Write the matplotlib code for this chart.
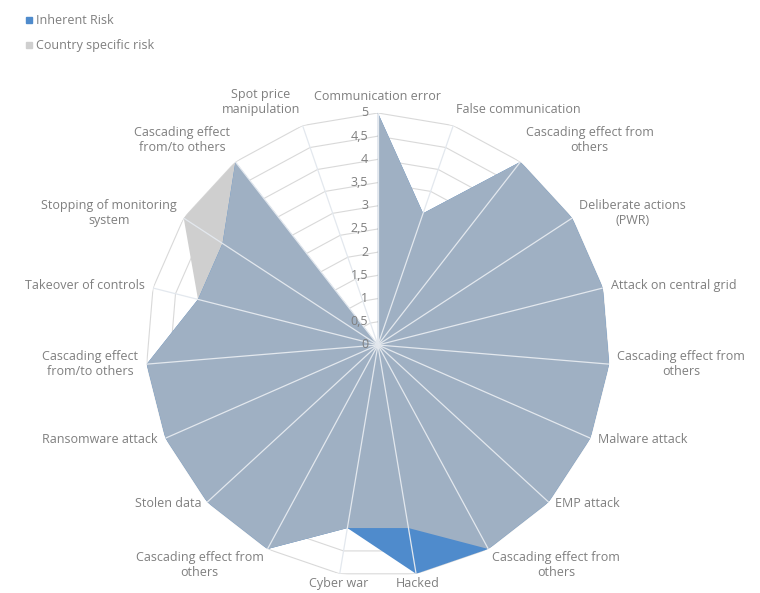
import numpy as np
import matplotlib.pyplot as plt
from matplotlib.lines import Line2D

plt.rcParams['font.family'] = ['Open Sans', 'DejaVu Sans']

categories = ['Communication error', 'False communication', 'Cascading effect from\nothers',
              'Deliberate actions\n(PWR)', 'Attack on central grid', 'Cascading effect from\nothers',
              'Malware attack', 'EMP attack', 'Cascading effect from\nothers', 'Hacked', 'Cyber war',
              'Cascading effect from\nothers', 'Stolen data', 'Ransomware attack',
              'Cascading effect\nfrom/to others', 'Takeover of controls',
              'Stopping of monitoring\nsystem', 'Cascading effect\nfrom/to others',
              'Spot price\nmanipulation']
inherent_risk = [5, 3, 5, 5, 5, 5, 5, 5, 5, 5, 4, 5, 5, 5, 5, 4, 4, 5, 0]
country_risk = [5, 3, 5, 5, 5, 5, 5, 5, 5, 4, 4, 5, 5, 5, 5, 4, 5, 5, 0]
rticks = [0, 0.5, 1, 1.5, 2, 2.5, 3, 3.5, 4, 4.5, 5]
rtick_labels = ['0', '0,5', '1', '1,5', '2', '2,5', '3', '3,5', '4', '4,5', '5']

text_color = '#7f7f7f'
grid_color = '#d9d9d9'
blue = '#4f8bcc'
gray = '#cfcfcf'
mix = '#9fb0c3'

n = len(categories)
theta = np.linspace(0, 2 * np.pi, n, endpoint=False)
theta_c = np.append(theta, theta[0])


def close(vals):
    return np.append(vals, vals[0])


fig = plt.figure(figsize=(7.6, 5.93), dpi=100, facecolor='white')
ax = fig.add_axes([0.192, 0.027, 0.6105, 0.7825], projection='polar')
ax.set_theta_offset(np.pi / 2)
ax.set_theta_direction(-1)
ax.set_ylim(0, 5)
ax.grid(False)
ax.set_xticks([])
ax.set_yticks([])
ax.spines['polar'].set_visible(False)

# polygon rings
for r in rticks[1:]:
    ax.plot(theta_c, [r] * (n + 1), color=grid_color, lw=0.8, zorder=1)

# series
inh = np.array(inherent_risk, dtype=float)
cty = np.array(country_risk, dtype=float)
ax.fill(theta_c, close(cty), color=gray, lw=0, zorder=2)
ax.fill(theta_c, close(inh), color=blue, lw=0, zorder=3)
ax.fill(theta_c, close(np.minimum(inh, cty)), color=mix, lw=0, zorder=4)

# spokes
for t in theta:
    ax.plot([t, t], [0, 5], color='#e3e8ee', lw=0.9, zorder=5)

# radial tick labels
for r, lab in zip(rticks, rtick_labels):
    ax.annotate(lab, xy=(0, r), xytext=(-7, 0), textcoords='offset points',
                ha='right', va='center', color=text_color, fontsize=9, zorder=10)

# category labels
for t, lab in zip(theta, categories):
    s, c = np.sin(t), np.cos(t)
    if abs(s) < 0.2:
        ha = 'center'
    elif s > 0:
        ha = 'left'
    else:
        ha = 'right'
    if c > 0.7:
        va = 'bottom'
    elif c < -0.7:
        va = 'top'
    else:
        va = 'center'
    dy = 7 * c if c > 0 else 2 * c
    ax.annotate(lab, xy=(t, 5), xytext=(6 * s, dy), textcoords='offset points',
                ha=ha, va=va, multialignment='center', color=text_color, fontsize=9,
                zorder=10)

handles = [Line2D([], [], marker='s', ls='', color=blue, markersize=5),
           Line2D([], [], marker='s', ls='', color=gray, markersize=5)]
fig.legend(handles, ['Inherent Risk', 'Country specific risk'], loc='upper left',
           bbox_to_anchor=(0.015, 0.995), frameon=False, labelcolor=text_color,
           fontsize=9, handletextpad=0.05, labelspacing=0.95, handlelength=1.0)

fig.savefig('out.png', dpi=100, facecolor='white')
